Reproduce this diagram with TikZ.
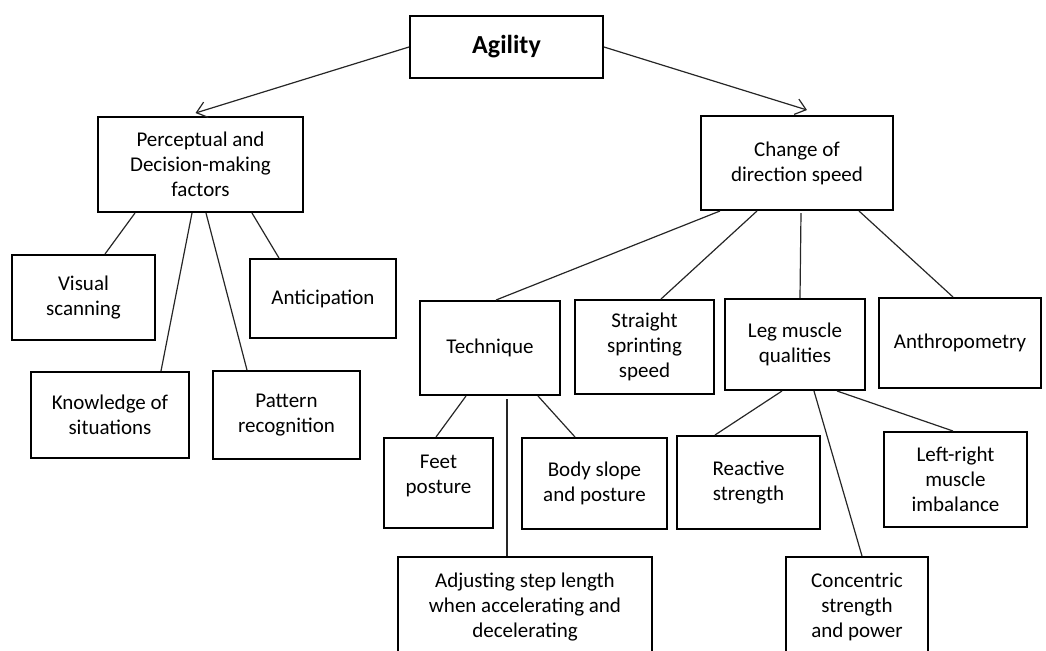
\documentclass[tikz,border=0pt]{standalone}
\usepackage{fontspec}
\setmainfont{Carlito}
\usepackage{tikz}
\usetikzlibrary{arrows.meta, calc}

\begin{document}
\begin{tikzpicture}[
    x=0.5pt, y=-0.5pt,
    box/.style 2 args={rectangle, draw=black, line width=1pt, minimum width=#1, minimum height=#2, inner sep=0pt, align=center, font=\fontsize{10.5}{12.5}\selectfont},
    link/.style={draw=black!85, line width=0.6pt},
    arrow/.style={link, -{Straight Barb[length=5pt, width=8pt]}}
]
    \clip (0,0) rectangle (1046,650);

    % Top
    \node[box={96.5pt}{31pt}, font=\fontsize{13}{15}\selectfont\bfseries] (agility) at (506.5,47) {Agility};
    \node[box={102.5pt}{47.5pt}] (percep) at (200.5,164.5) {Perceptual and\\Decision-making\\factors};
    \node[box={96pt}{47pt}] (change) at (797,163) {Change of\\direction speed};

    % Perceptual branch
    \node[box={71.5pt}{42.5pt}] (visual) at (83.5,297.5) {Visual\\scanning};
    \node[box={73pt}{39.5pt}] (antic) at (323,298.5) {Anticipation};
    \node[box={79pt}{43pt}] (knowl) at (110,415) {Knowledge of\\situations};
    \node[box={73.5pt}{44pt}] (pattern) at (286.5,415) {Pattern\\recognition};

    % Change of direction branch
    \node[box={70pt}{47pt}] (technique) at (490,348) {Technique};
    \node[box={69.5pt}{47pt}] (straight) at (644.5,347) {Straight\\sprinting\\speed};
    \node[box={70pt}{45.5pt}] (leg) at (795,344.5) {Leg muscle\\qualities};
    \node[box={81pt}{45pt}] (anthro) at (960,343) {Anthropometry};

    % Technique
    \node[box={54.5pt}{45pt}] (feet) at (438.5,483) {Feet\\posture\\[-3.5pt]};
    \node[box={72.5pt}{45.5pt}] (body) at (594.5,483.5) {Body slope\\and posture};
    \node[box={127pt}{50pt}] (adjust) at (525,607) {Adjusting step length\\when accelerating and\\decelerating};

    % Leg muscle qualities
    \node[box={71.5pt}{46.5pt}] (reactive) at (748.5,482.5) {Reactive\\strength};
    \node[box={71.5pt}{47.5pt}] (leftright) at (955.5,479.5) {Left-right\\muscle\\imbalance};
    \node[box={71pt}{50pt}] (concentric) at (857,607) {Concentric\\strength\\and power};

    % Arrows
    \draw[arrow] (agility.west) -- ($(percep.north)+(-5,-3)$);
    \draw[arrow] (agility.east) -- ($(change.north)+(10,-5)$);

    % Links
    \draw[link] ($(percep.south)+(-65.5,0)$) -- ($(visual.north)+(21.5,0)$);
    \draw[link] ($(percep.south)+(-8.5,0)$) -- ($(knowl.north)+(51,0)$);
    \draw[link] ($(percep.south)+(5.5,0)$) -- ($(pattern.north)+(-39.5,0)$);
    \draw[link] ($(percep.south)+(51.5,0)$) -- ($(antic.north)+(-44,0)$);
    \draw[link] ($(change.south)+(-77,0)$) -- ($(technique.north)+(6,0)$);
    \draw[link] ($(change.south)+(-40,0)$) -- ($(straight.north)+(16.5,0)$);
    \draw[link] ($(change.south)+(4,2)$) -- ($(leg.north)+(5,0)$);
    \draw[link] ($(change.south)+(62,0)$) -- ($(anthro.north)+(-7,0)$);
    \draw[link] ($(technique.south)+(-24,0)$) -- ($(feet.north)+(-2.5,0)$);
    \draw[link] ($(technique.south)+(48,0)$) -- ($(body.north)+(-19.5,0)$);
    \draw[link] ($(technique.south)+(17,3)$) -- ($(adjust.north)+(-18,0)$);
    \draw[link] ($(leg.south)+(-13,0)$) -- ($(reactive.north)+(-33.5,0)$);
    \draw[link] ($(leg.south)+(19,0)$) -- ($(concentric.north)+(5,0)$);
    \draw[link] ($(leg.south)+(42,0)$) -- ($(leftright.north)+(-2.5,0)$);
\end{tikzpicture}
\end{document}
